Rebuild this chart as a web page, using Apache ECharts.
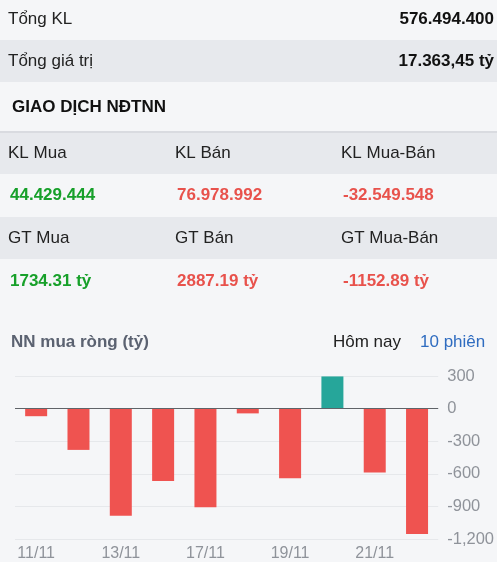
<!DOCTYPE html>
<html>
<head>
<meta charset="utf-8">
<script src="https://cdn.jsdelivr.net/npm/echarts@6/dist/echarts.min.js"></script>
<style>
html,body{margin:0;padding:0;background:#f5f6f8;}
#chart{width:497px;height:562px;}
</style>
</head>
<body>
<div id="chart"></div>
<script>
// ---- data ----
const dates = ['11/11','12/11','13/11','14/11','17/11','18/11','19/11','20/11','21/11','24/11'];
const netBuy = [-70, -380, -985, -667, -907, -44, -642, 296, -587, -1152.89];
const yTicks = [-1200, -900, -600, -300, 0, 300];

const summaryLabels = ['Tổng KL', 'Tổng giá trị'];
const summaryValues = ['576.494.400', '17.363,45 tỷ'];
const sectionTitle = 'GIAO DỊCH NĐTNN';
const volHeaders = ['KL Mua', 'KL Bán', 'KL Mua-Bán'];
const volValues = ['44.429.444', '76.978.992', '-32.549.548'];
const valHeaders = ['GT Mua', 'GT Bán', 'GT Mua-Bán'];
const valValues = ['1734.31 tỷ', '2887.19 tỷ', '-1152.89 tỷ'];
const chartTitle = 'NN mua ròng (tỷ)';
const tabs = ['Hôm nay', '10 phiên'];

// ---- styling ----
const FONT = '"Liberation Sans", Arial, sans-serif';
const BG = '#f5f6f8';
const BAND = '#e7e9ed';
const GREEN_TXT = '#17a02a';
const RED_TXT = '#e8524c';
const RED_BAR = '#ef5350';
const TEAL_BAR = '#26a69a';

function txt(text, x, y, opts) {
  opts = opts || {};
  return {
    type: 'text', x: x, y: y, silent: true, z: 10,
    style: {
      text: text,
      fill: opts.fill || '#222',
      font: (opts.bold ? 'bold ' : '') + (opts.size || 17) + 'px ' + FONT,
      textAlign: opts.align || 'left', align: opts.align || 'left',
      textVerticalAlign: 'middle', verticalAlign: 'middle'
    }
  };
}
function band(y, h, fill) {
  return { type: 'rect', silent: true, z: 1, shape: { x: 0, y: y, width: 497, height: h }, style: { fill: fill } };
}

const graphics = [
  band(40, 42, BAND),
  band(131, 2, '#d9dbe0'),
  band(133, 41, BAND),
  band(217, 42, BAND),
  txt(summaryLabels[0], 8, 19),
  txt(summaryValues[0], 494, 19, { bold: true, align: 'right', fill: '#111' }),
  txt(summaryLabels[1], 8, 61),
  txt(summaryValues[1], 494, 61, { bold: true, align: 'right', fill: '#111' }),
  txt(sectionTitle, 12, 107, { bold: true, fill: '#111' }),
  txt(chartTitle, 11, 342, { bold: true, fill: '#5b6271' }),
  txt(tabs[0], 333, 342, { fill: '#222' }),
  txt(tabs[1], 420, 342, { fill: '#2f6cc0' })
];
const colX = [8, 175, 341];
const valX = [10, 177, 343];
const valColors = [GREEN_TXT, RED_TXT, RED_TXT];
for (let i = 0; i < 3; i++) {
  graphics.push(txt(volHeaders[i], colX[i], 153));
  graphics.push(txt(volValues[i], valX[i], 195, { bold: true, fill: valColors[i] }));
  graphics.push(txt(valHeaders[i], colX[i], 238));
  graphics.push(txt(valValues[i], valX[i], 281, { bold: true, fill: valColors[i] }));
}

const chart = echarts.init(document.getElementById('chart'), null, { renderer: 'canvas' });
chart.setOption({
  backgroundColor: BG,
  animation: false,
  textStyle: { fontFamily: FONT },
  graphic: { elements: graphics },
  grid: { left: 15, right: 54, top: 376, bottom: 23 },
  xAxis: {
    type: 'category',
    data: dates,
    axisLine: { show: false, onZero: false },
    axisTick: { show: false },
    axisLabel: { interval: 1, color: '#8f939a', fontSize: 16, margin: 7, fontFamily: FONT }
  },
  yAxis: {
    type: 'value',
    position: 'right',
    min: yTicks[0],
    max: yTicks[yTicks.length - 1],
    interval: 300,
    axisLine: { show: false },
    axisTick: { show: false },
    axisLabel: { color: '#8f939a', fontSize: 16.5, margin: 9, fontFamily: FONT },
    splitLine: { lineStyle: { color: '#e6e8eb', width: 1 } }
  },
  series: [{
    type: 'bar',
    data: netBuy,
    barWidth: 22,
    itemStyle: {
      color: function (p) { return p.value >= 0 ? TEAL_BAR : RED_BAR; }
    },
    markLine: {
      silent: true,
      symbol: ['none', 'none'],
      label: { show: false },
      lineStyle: { color: '#5f6368', width: 1, type: 'solid' },
      data: [{ yAxis: 0 }]
    }
  }]
});
</script>
</body>
</html>
